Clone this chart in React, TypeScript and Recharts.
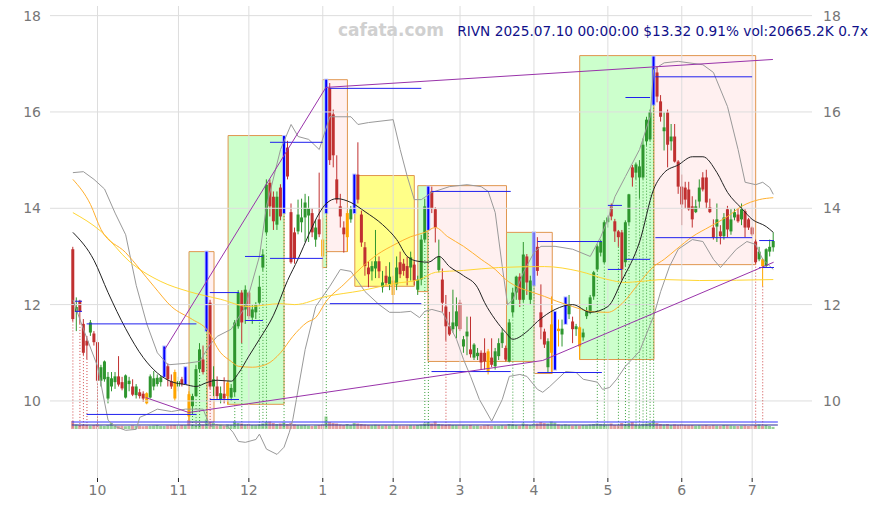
import React from "react";
import {
  ComposedChart,
  Bar,
  Line,
  XAxis,
  YAxis,
  ReferenceArea,
  ReferenceLine,
} from "recharts";

type Candle = [number, number, number, number]; // open, high, low, close

// daily candles, Sep 20 2024 .. Jul 10 2025
const sep: Candle[] = [
  [13.15, 13.2, 11.65, 11.7], [11.85, 12.15, 11.45, 11.95], [12.08, 12.1, 11.6, 11.85],
  [11.6, 11.7, 10.95, 11.0], [11.25, 11.35, 10.87, 11.15], [11.42, 11.68, 11.35, 11.63],
  [11.4, 11.45, 11.15, 11.22],
];
const oct: Candle[] = [
  [11.22, 11.27, 10.36, 10.42], [10.42, 10.75, 10.3, 10.7], [10.45, 10.84, 10.4, 10.82],
  [10.05, 10.6, 9.95, 10.5], [10.3, 10.6, 10.2, 10.47], [10.39, 10.6, 10.25, 10.51],
  [10.51, 10.93, 10.3, 10.34], [10.39, 10.5, 10.22, 10.26], [10.07, 10.55, 10.05, 10.53],
  [10.35, 10.5, 10.2, 10.42], [10.3, 10.45, 10.1, 10.13], [10.12, 10.35, 10.05, 10.3],
  [10.18, 10.25, 10.05, 10.1], [10.15, 10.2, 9.98, 10.05], [10.16, 10.18, 9.93, 9.95],
  [10.07, 10.55, 10.05, 10.51], [10.3, 10.62, 10.22, 10.47], [10.35, 10.55, 10.3, 10.48],
  [10.39, 10.52, 10.3, 10.49], [10.51, 11.13, 10.5, 10.93], [10.72, 10.78, 10.3, 10.45],
  [10.41, 10.55, 10.25, 10.3], [10.6, 10.65, 10.0, 10.05],
];
const nov: Candle[] = [
  [10.3, 10.5, 10.2, 10.41], [10.45, 10.5, 10.3, 10.35], [10.39, 10.7, 10.35, 10.66],
  [10.14, 10.2, 9.6, 9.68], [9.89, 10.15, 9.75, 10.1], [10.1, 10.75, 10.1, 10.66],
  [10.66, 11.2, 10.6, 11.07], [10.86, 11.15, 10.55, 10.6], [11.5, 13.1, 11.45, 12.05],
  [12.04, 12.1, 10.25, 10.3], [10.3, 10.72, 10.1, 10.45], [10.3, 10.51, 10.03, 10.1],
  [10.03, 10.3, 9.95, 10.16], [10.15, 10.49, 9.95, 10.05], [10.1, 10.41, 9.92, 10.38],
  [10.07, 10.35, 10.0, 10.27], [10.18, 11.68, 10.1, 11.63], [11.55, 12.3, 11.5, 12.25],
  [12.25, 12.3, 11.2, 11.63], [11.9, 12.4, 11.6, 12.31],
];
const dec: Candle[] = [
  [12.25, 12.27, 11.7, 11.76], [11.73, 12.0, 11.6, 11.9], [11.84, 12.05, 11.7, 12.0],
  [12.04, 12.6, 12.0, 12.37], [12.77, 13.15, 12.7, 13.04], [13.5, 14.6, 13.45, 14.49],
  [14.53, 14.6, 13.83, 14.04], [14.24, 14.35, 13.55, 13.73], [13.66, 14.35, 13.55, 14.24],
  [14.43, 14.5, 13.75, 13.83], [13.92, 15.5, 13.9, 15.3], [15.26, 15.4, 14.6, 14.66],
  [13.92, 14.1, 12.85, 12.88], [13.5, 13.6, 12.85, 12.95], [13.52, 14.18, 13.46, 13.87],
  [13.71, 14.2, 13.5, 13.81], [13.81, 14.3, 13.3, 14.12], [13.85, 14.25, 13.3, 14.0],
  [13.9, 14.0, 13.4, 13.5], [13.35, 13.75, 13.2, 13.6], [13.77, 14.74, 13.4, 13.46],
];
const jan: Candle[] = [
  [13.35, 13.8, 12.75, 13.0], [13.95, 16.67, 13.9, 16.5], [16.5, 16.6, 14.9, 15.0],
  [15.95, 16.05, 14.85, 15.1], [14.6, 15.1, 14.1, 14.18], [14.04, 14.3, 13.6, 13.83],
  [13.6, 13.73, 13.08, 13.46], [13.4, 13.95, 13.1, 13.9], [13.77, 14.05, 13.7, 13.98],
  [13.94, 14.7, 13.9, 14.66], [14.7, 15.37, 14.1, 14.18], [13.87, 13.95, 13.2, 13.29],
  [13.19, 13.3, 12.6, 12.8], [12.77, 12.9, 12.36, 12.63], [12.69, 12.9, 12.5, 12.8],
  [12.75, 13.55, 12.55, 12.9], [12.9, 13.0, 12.55, 12.69], [12.36, 12.7, 12.25, 12.46],
  [12.6, 12.8, 12.4, 12.45], [12.42, 12.88, 12.3, 12.58],
];
const feb: Candle[] = [
  [12.5, 12.6, 12.0, 12.2], [12.42, 13.0, 12.3, 12.77], [12.88, 13.1, 12.55, 12.63],
  [12.85, 12.95, 12.6, 12.7], [12.8, 13.0, 12.4, 12.55], [12.77, 13.1, 12.5, 12.98],
  [12.83, 12.9, 12.4, 12.5], [12.31, 12.6, 12.2, 12.52], [12.52, 13.45, 12.4, 13.35],
  [13.35, 14.2, 13.3, 14.04], [13.6, 14.45, 13.55, 14.4], [14.35, 14.45, 13.9, 14.0],
  [13.98, 14.02, 13.29, 13.6], [12.72, 13.35, 12.67, 13.0], [12.52, 12.75, 11.85, 12.04],
  [11.96, 12.2, 11.25, 11.55], [11.55, 11.85, 11.35, 11.38], [11.49, 12.31, 11.42, 11.63],
  [11.55, 12.15, 11.3, 11.86],
];
const mar: Candle[] = [
  [12.04, 12.1, 11.45, 11.49], [11.13, 11.35, 11.0, 11.28], [11.34, 11.75, 10.95, 11.44],
  [11.07, 11.75, 10.9, 10.97], [10.9, 11.2, 10.85, 11.17], [10.93, 11.1, 10.85, 11.0],
  [11.0, 11.05, 10.65, 10.8], [11.0, 11.3, 10.65, 10.82], [11.03, 11.08, 10.55, 10.6],
  [10.9, 11.3, 10.7, 10.75], [10.72, 11.1, 10.65, 11.03], [10.93, 11.3, 10.85, 11.2],
  [11.2, 11.5, 11.1, 11.42], [11.1, 11.15, 10.82, 10.86], [10.82, 11.7, 10.8, 11.63],
  [11.84, 12.35, 11.75, 12.25], [12.25, 12.6, 12.1, 12.58], [12.58, 12.65, 11.95, 12.1],
  [12.1, 13.3, 12.05, 13.04], [13.0, 13.05, 12.2, 12.46], [12.1, 12.6, 12.0, 12.5],
];
const apr: Candle[] = [
  [12.42, 13.5, 12.4, 13.45], [13.2, 13.4, 12.6, 12.7], [11.84, 12.42, 11.28, 11.53],
  [11.44, 11.5, 11.1, 11.17], [10.7, 11.3, 10.6, 11.24], [11.0, 12.17, 10.57, 11.59],
  [10.7, 11.85, 10.65, 11.8], [11.5, 11.69, 11.13, 11.45], [11.38, 11.69, 11.13, 11.5],
  [11.69, 12.15, 11.6, 12.15], [11.8, 12.2, 11.7, 12.0], [11.65, 11.75, 11.2, 11.49],
  [11.49, 11.6, 11.35, 11.55], [11.53, 11.55, 10.86, 11.13], [11.32, 11.5, 11.25, 11.42],
  [11.76, 11.95, 11.7, 11.86], [11.84, 12.2, 11.8, 12.15], [12.17, 12.7, 12.1, 12.67],
  [12.73, 13.25, 12.7, 13.21], [13.08, 13.35, 13.0, 13.31], [12.88, 13.75, 12.85, 13.71],
];
const may: Candle[] = [
  [13.71, 13.85, 13.6, 13.81], [14.04, 14.1, 13.75, 13.83], [13.73, 13.78, 13.3, 13.52],
  [13.52, 13.55, 13.2, 13.4], [13.5, 13.55, 12.5, 12.73], [12.88, 13.75, 12.8, 13.71],
  [13.71, 14.3, 13.65, 14.29], [14.85, 14.9, 14.45, 14.64], [14.74, 14.95, 14.6, 14.91],
  [14.64, 15.0, 14.2, 14.87], [14.64, 15.45, 14.6, 15.32], [15.39, 15.9, 15.3, 15.84],
  [15.43, 16.05, 15.4, 16.0], [16.2, 17.15, 16.15, 16.7], [16.82, 16.95, 16.2, 16.32],
  [16.22, 16.35, 15.8, 15.9], [15.6, 15.99, 15.2, 15.68], [15.99, 16.05, 14.85, 15.32],
  [15.39, 15.75, 15.2, 15.49], [15.49, 15.75, 14.95, 14.97], [14.97, 15.0, 14.3, 14.45],
];
const jun: Candle[] = [
  [14.45, 14.7, 13.65, 14.08], [14.43, 14.55, 14.0, 14.18], [14.39, 14.55, 13.95, 13.98],
  [14.04, 14.25, 13.6, 13.77], [13.92, 14.18, 13.9, 14.04], [14.14, 14.6, 14.0, 14.43],
  [14.64, 14.75, 14.35, 14.39], [14.64, 14.8, 14.0, 14.12], [14.02, 14.2, 13.9, 13.92],
  [13.6, 13.77, 13.35, 13.4], [13.62, 14.1, 13.3, 13.77], [13.52, 13.65, 13.25, 13.42],
  [13.42, 13.9, 13.35, 13.81], [13.98, 14.05, 13.4, 13.56], [13.52, 13.98, 13.45, 13.77],
  [13.81, 14.0, 13.75, 13.92], [13.87, 14.0, 13.7, 13.73], [13.77, 14.1, 13.65, 13.98],
  [13.94, 13.98, 13.4, 13.6], [13.77, 13.8, 13.55, 13.6],
];
const jul: Candle[] = [
  [13.6, 13.62, 13.43, 13.46], [13.31, 13.35, 12.85, 12.88], [12.94, 13.2, 12.9, 13.1],
  [12.94, 12.97, 12.38, 12.8], [12.8, 13.17, 12.78, 13.15], [13.1, 13.35, 13.0, 13.2],
  [13.19, 13.5, 13.1, 13.32],
];

// volume in millions
const volSep = [80, 45, 40, 42, 38, 35, 40];
const volOct = [45, 35, 30, 38, 60, 35, 30, 32, 28, 30, 35, 30, 32, 28, 30, 33, 35, 40, 32, 30, 35, 38, 40];
const volNov = [35, 40, 38, 90, 45, 40, 50, 45, 95, 70, 60, 50, 45, 40, 45, 42, 75, 60, 55, 45];
const volDec = [50, 40, 38, 45, 55, 70, 75, 60, 50, 55, 65, 50, 60, 45, 40, 38, 40, 35, 30, 35, 40];
const volJan = [45, 125, 70, 60, 55, 45, 40, 50, 40, 60, 55, 50, 45, 40, 38, 42, 40, 35, 38, 35];
const volFeb = [40, 38, 35, 33, 35, 38, 35, 40, 45, 55, 70, 55, 75, 50, 45, 40, 45, 40, 38];
const volMar = [40, 38, 35, 40, 33, 35, 30, 35, 40, 32, 35, 33, 38, 35, 50, 45, 40, 35, 55, 45, 40];
const volApr = [50, 55, 70, 60, 55, 75, 65, 45, 40, 45, 40, 35, 38, 35, 40, 38, 45, 50, 55, 50, 48];
const volMay = [45, 55, 40, 38, 60, 50, 55, 70, 45, 40, 50, 55, 60, 85, 60, 50, 45, 50, 40, 45, 40];
const volJun = [45, 40, 38, 40, 35, 38, 35, 40, 33, 38, 35, 33, 40, 38, 35, 32, 30, 33, 35, 30];
const volJul = [35, 38, 45, 33, 40, 30, 21];
const volLevels = [70, 40];

const candles = [...sep, ...oct, ...nov, ...dec, ...jan, ...feb, ...mar, ...apr, ...may, ...jun, ...jul];
const volumes = [...volSep, ...volOct, ...volNov, ...volDec, ...volJan, ...volFeb, ...volMar, ...volApr, ...volMay, ...volJun, ...volJul];

// swing highs (blue) and swing lows (orange)
const blueIdx = [26, 32, 38, 60, 72, 80, 101, 131, 137, 140, 165];
const orangeIdx = [21, 29, 33, 44, 71, 78, 91, 118, 136, 138, 144, 196];

const monthTicks = [7, 30, 50, 71, 91, 110, 131, 152, 173, 193];
const monthLabels = ["10", "11", "12", "1", "2", "3", "4", "5", "6", "7"];
const priceTicks = [10, 12, 14, 16, 18];

// indicator lines, [day index, value]
const midLine = [
  [0, 13.5], [6, 12.92], [10, 12.25], [15, 11.5], [20, 10.9], [24, 10.58], [28, 10.4], [32, 10.34],
  [35, 10.3], [38, 10.38], [41, 10.43], [45, 10.41], [47, 10.57], [50, 10.93], [53, 11.28], [57, 11.78],
  [61, 12.5], [64, 12.95], [67, 13.45], [70, 13.9], [72, 14.1], [75, 14.2], [79, 14.12], [83, 13.93],
  [88, 13.66], [92, 13.35], [95, 13.0], [98, 12.9], [101, 12.88], [104, 13.0], [107, 12.79], [111, 12.6],
  [115, 12.35], [117, 12.04], [120, 11.69], [123, 11.42], [125, 11.28], [129, 11.44], [132, 11.65],
  [137, 11.9], [142, 12.0], [147, 11.84], [152, 11.96], [156, 12.5], [161, 13.3], [165, 14.39],
  [168, 14.74], [172, 14.9], [176, 15.07], [179, 15.07], [183, 14.74], [186, 14.33], [190, 14.0],
  [193, 13.77], [197, 13.62], [199, 13.5],
];
const upperBand = [
  [0, 14.74], [3, 14.76], [6, 14.6], [9, 14.4], [12, 13.9], [15, 13.45], [18, 12.4], [21, 11.6],
  [24, 11.0], [27, 10.75], [32, 10.78], [36, 10.82], [39, 11.17], [41, 11.34], [45, 11.49], [49, 11.96],
  [53, 13.0], [55, 14.04], [59, 15.22], [62, 15.74], [64, 15.49], [67, 15.43], [70, 15.22], [73, 15.9],
  [79, 15.9], [81, 15.74], [84, 15.78], [91, 15.84], [93, 15.22], [95, 14.66], [97, 14.18], [99, 14.18],
  [102, 14.33], [107, 14.45], [112, 14.49], [116, 14.45], [118, 14.35], [120, 13.91], [122, 12.79],
  [123.5, 12.0], [125, 12.1], [128, 12.67], [131, 13.08], [133, 13.21], [137, 13.21], [142, 13.15],
  [147, 13.0], [150, 13.41], [152, 13.77], [154, 14.24], [157, 14.66], [161, 15.22], [164, 15.9],
  [165, 16.88], [168, 17.02], [172, 17.05], [179, 16.98], [182, 16.82], [186, 16.11], [189, 15.22],
  [191, 14.54], [194, 14.49], [196, 14.54], [198, 14.43], [199, 14.29],
];
const lowerBand = [
  [0, 12.1], [3, 11.49], [7, 10.72], [10, 9.6], [12, 9.47], [15, 9.39], [18, 9.41], [19, 9.66],
  [21, 9.72], [24, 9.83], [28, 9.78], [32, 9.83], [37, 9.83], [39, 9.47], [42, 9.51], [44, 9.47],
  [45.5, 9.35], [47, 9.16], [49, 9.14], [52, 9.2], [53, 9.31], [55, 9.0], [58, 8.89], [60, 9.04],
  [61.5, 9.35], [62.5, 9.62], [63.5, 10.03], [66, 11.07], [69, 11.96], [73, 12.38], [76, 12.73],
  [79, 12.69], [83, 12.27], [87, 12.0], [90, 11.84], [93, 11.84], [96, 11.86], [98.5, 11.73],
  [100, 11.86], [102, 11.9], [105, 11.84], [106.5, 11.63], [109, 11.28], [111, 10.86], [113, 10.51],
  [115.5, 10.03], [119, 9.58], [122, 10.03], [124, 10.51], [127, 10.55], [129, 10.51], [132, 10.24],
  [133.5, 10.18], [135.5, 10.3], [140, 10.61], [143, 10.59], [145, 10.45], [149, 10.39], [150.5, 10.24],
  [152.5, 10.28], [154.5, 10.45], [157, 10.72], [161, 11.03], [165, 11.76], [167, 12.27], [169.5, 12.79],
  [172, 13.15], [176, 13.35], [179, 13.31], [182, 12.94], [184, 12.77], [186, 12.94], [188.5, 13.15],
  [191.5, 13.31], [194, 13.25], [196, 12.94], [199, 12.73],
];
const orangeLine = [
  [0, 14.6], [5, 14.08], [8, 13.56], [15, 13.08], [23, 12.38], [28, 11.96], [34, 11.69], [38, 11.49],
  [42, 11.0], [45, 10.82], [47, 10.72], [51, 10.7], [55, 10.76], [59, 11.0], [62.5, 11.34], [66.5, 11.63],
  [69, 11.73], [72, 12.07], [77, 12.42], [82, 12.77], [86.5, 13.04], [91.5, 13.25], [96, 13.41],
  [100, 13.5], [103, 13.6], [106.5, 13.41], [111, 13.21], [116, 12.94], [120, 12.73], [123, 12.52],
  [126, 12.38], [130, 12.27], [134, 12.17], [137.5, 12.07], [142, 11.96], [147, 11.86], [152, 11.84],
  [156, 12.02], [161, 12.46], [165, 12.79], [168, 12.94], [171.5, 13.15], [176, 13.41], [181, 13.62],
  [186, 13.83], [190, 14.04], [195, 14.18], [199, 14.22],
];
const yellowLine = [
  [0, 13.91], [8, 13.52], [16, 12.9], [25, 12.48], [33, 12.27], [42, 12.11], [50, 11.96], [59, 12.02],
  [63, 12.0], [72, 12.17], [82, 12.29], [91.5, 12.44], [98.5, 12.52], [103, 12.67], [111, 12.71],
  [121, 12.77], [134, 12.79], [144, 12.69], [152, 12.52], [157, 12.46], [161, 12.48], [168, 12.52],
  [178, 12.5], [199, 12.52],
];

// swing boxes: [from, to, low, high, kind]
const boxes: [number, number, number, number, string][] = [
  [33, 38.15, 9.56, 13.1, "up"],
  [38.15, 40.1, 9.56, 13.1, "down"],
  [44.1, 60, 9.93, 15.51, "up"],
  [70.9, 72.1, 12.77, 16.67, "up"],
  [72.1, 78, 13.1, 16.67, "down"],
  [80.1, 97, 12.38, 14.68, "flat"],
  [98, 100.9, 12.27, 14.47, "up"],
  [100.9, 123.2, 10.82, 14.47, "down"],
  [123.2, 131.05, 10.82, 13.5, "up"],
  [131.05, 136.2, 10.57, 13.5, "down"],
  [144, 165.1, 10.86, 17.17, "up"],
  [165.1, 194, 12.83, 17.17, "down"],
];

// blue levels: [from, to, price]
const blueLevels: [number, number, number][] = [
  [0.6, 2.6, 12.07], [0.6, 2.6, 11.86],
  [3.9, 35.1, 11.6], [3.9, 35.1, 9.72],
  [38.9, 47.2, 12.25], [38.9, 47.2, 10.03],
  [48.9, 54, 13.0], [48.9, 54, 11.67],
  [56, 71, 15.37], [56, 71, 12.96],
  [73, 99, 16.49], [73, 99, 12.02],
  [101.9, 124.4, 14.35], [101.9, 124.4, 10.61],
  [132, 150.3, 13.31], [132, 150.3, 10.59],
  [152, 156, 14.06], [152, 156, 12.73],
  [157, 164, 16.3], [157, 164, 12.94],
  [165.5, 193, 16.73], [165.5, 193, 13.39],
  [195, 199.2, 13.33], [195, 199.2, 12.77],
];

// purple trend lines: [x1, y1, x2, y2]
const trendLines: [number, number, number, number][] = [
  [26.1, 11.07, 71.9, 16.51],
  [71.9, 16.51, 198.9, 17.09],
  [20.7, 10.07, 32.9, 9.76],
  [32.9, 9.76, 133.5, 10.84],
  [133.5, 10.84, 199.1, 12.88],
];

const redMarks = [0, 2, 3, 4, 7, 39, 106, 194, 196];
const greenMarks = [34, 35, 36, 38, 46, 48, 53, 54, 55, 60, 72, 100, 101, 125, 128, 131, 149, 151, 155, 157, 158, 160, 161, 162, 163, 164, 165];
const markFloor = 9.45;

const data = candles.map((c, i) => ({
  i,
  o: c[0],
  h: c[1],
  l: c[2],
  c: c[3],
  vol: volumes[i],
  mark: blueIdx.includes(i) ? "blue" : orangeIdx.includes(i) ? "orange" : "",
}));

const toPts = (arr: number[][]) => arr.map(([i, v]) => ({ i, v }));

const boxFill: Record<string, string> = { up: "#ccffcc", down: "#fff0f0", flat: "#ffff88" };
const FONT = "DejaVu Sans";

function CandleShape(props: any) {
  const { x, y, width, height, payload } = props;
  if (!payload || x == null || y == null) return null;
  const { o, h, l, c, mark } = payload;
  const top = height >= 0 ? y : y + height;
  const span = Math.abs(height);
  const k = h > l ? span / (h - l) : 0;
  const py = (v: number) => top + (h - v) * k;
  const cx = x + width / 2;
  if (mark === "blue") {
    return (
      <g>
        <rect x={cx - 2} y={top - 1} width={4} height={span + 2} fill="#b8c0ff" />
        <rect x={cx - 1} y={top} width={2} height={span} fill="#0000ff" />
      </g>
    );
  }
  const color = mark === "orange" ? "#ffa500" : c >= o ? "#2e962e" : "#c03030";
  const bodyTop = py(Math.max(o, c));
  const bodyH = Math.max(1, Math.abs(py(o) - py(c)));
  return (
    <g>
      <line x1={cx} x2={cx} y1={top} y2={top + span} stroke={color} strokeWidth={1} />
      <rect x={cx - 1.5} y={bodyTop} width={3} height={bodyH} fill={color} />
    </g>
  );
}

function VolShape(props: any) {
  const { x, y, width, height, payload } = props;
  if (!payload || x == null) return null;
  const up = payload.c >= payload.o;
  return (
    <rect
      x={x + width / 2 - 1.5}
      y={height >= 0 ? y : y + height}
      width={3}
      height={Math.abs(height)}
      fill={up ? "#7cc47c" : "#dc8888"}
      fillOpacity={0.8}
    />
  );
}

const LeftTick = ({ y, payload }: any) => (
  <text x={41} y={y} dy={5} textAnchor="end" fill="#777" fontSize={14} fontFamily={FONT}>
    {payload.value}
  </text>
);
const RightTick = ({ y, payload }: any) => (
  <text x={823} y={y} dy={5} textAnchor="start" fill="#777" fontSize={14} fontFamily={FONT}>
    {payload.value}
  </text>
);

export default function App() {
  return (
    <div style={{ position: "absolute", left: 0, top: 0, width: 878, height: 511, background: "#fff" }}>
      <ComposedChart width={878} height={511} data={data} margin={{ top: 6, right: 0, bottom: 0, left: 0 }}>
        {priceTicks.map((t) => (
          <ReferenceLine key={"h" + t} xAxisId="x" yAxisId="p" segment={[{ x: -6.5, y: t }, { x: 210, y: t }]} stroke="#dddddd" />
        ))}
        {monthTicks.map((t) => (
          <ReferenceLine key={"m" + t} xAxisId="x" yAxisId="p" segment={[{ x: t, y: 8.4 }, { x: t, y: 18.2 }]} stroke="#dddddd" />
        ))}
        <XAxis
          xAxisId="x"
          dataKey="i"
          type="number"
          domain={[-6.5, 210]}
          allowDataOverflow
          ticks={monthTicks}
          tickFormatter={(v: number) => monthLabels[monthTicks.indexOf(v)] ?? ""}
          height={33}
          axisLine={false}
          tickSize={4}
          tickMargin={3}
          tickLine={{ stroke: "#222" }}
          tick={{ fill: "#777", fontSize: 14, fontFamily: FONT }}
        />
        <XAxis
          xAxisId="vx"
          dataKey="i"
          type="number"
          domain={[-6.5, 210]}
          allowDataOverflow
          hide
          height={0}
        />
        <YAxis
          yAxisId="p"
          domain={[8.4, 18.2]}
          allowDataOverflow
          ticks={priceTicks}
          width={50}
          axisLine={false}
          tickLine={false}
          tick={<LeftTick />}
        />
        <YAxis
          yAxisId="p2"
          orientation="right"
          domain={[8.4, 18.2]}
          allowDataOverflow
          ticks={priceTicks}
          width={66}
          axisLine={false}
          tickLine={false}
          tick={<RightTick />}
        />
        <YAxis yAxisId="vol" domain={[-490, 4230]} allowDataOverflow hide width={0} />

        {boxes.map(([x1, x2, y1, y2, kind], k) => (
          <ReferenceArea
            key={"b" + k}
            xAxisId="x"
            yAxisId="p"
            x1={x1}
            x2={x2}
            y1={y1}
            y2={y2}
            fill={boxFill[kind]}
            fillOpacity={1}
            stroke="#e0964f"
            strokeOpacity={1}
          />
        ))}

        {redMarks.map((i) => (
          <ReferenceLine
            key={"r" + i}
            xAxisId="x"
            yAxisId="p"
            segment={[{ x: i, y: candles[i][2] }, { x: i, y: markFloor }]}
            stroke="#d04848"
            strokeDasharray="1 2"
          />
        ))}
        {greenMarks.map((i) => (
          <ReferenceLine
            key={"g" + i}
            xAxisId="x"
            yAxisId="p"
            segment={[{ x: i, y: candles[i][2] }, { x: i, y: markFloor }]}
            stroke="#3aa03a"
            strokeDasharray="1 2"
          />
        ))}

        <Bar xAxisId="vx" yAxisId="vol" dataKey="vol" barSize={3} shape={<VolShape />} isAnimationActive={false} />
        {volLevels.map((v, k) => (
          <ReferenceLine
            key={"v" + k}
            xAxisId="x"
            yAxisId="vol"
            segment={[{ x: -0.3, y: v }, { x: 200.3, y: v }]}
            stroke={k === 0 ? "#3333ff" : "#2a2a99"}
          />
        ))}

        <Line xAxisId="x" yAxisId="p" data={toPts(upperBand)} dataKey="v" type="linear" stroke="#999" strokeWidth={1} dot={false} activeDot={false} isAnimationActive={false} />
        <Line xAxisId="x" yAxisId="p" data={toPts(lowerBand)} dataKey="v" type="linear" stroke="#999" strokeWidth={1} dot={false} activeDot={false} isAnimationActive={false} />
        <Line xAxisId="x" yAxisId="p" data={toPts(yellowLine)} dataKey="v" type="monotone" stroke="#ffd633" strokeWidth={1} dot={false} activeDot={false} isAnimationActive={false} />
        <Line xAxisId="x" yAxisId="p" data={toPts(orangeLine)} dataKey="v" type="monotone" stroke="#ffb030" strokeWidth={1} dot={false} activeDot={false} isAnimationActive={false} />
        <Line xAxisId="x" yAxisId="p" data={toPts(midLine)} dataKey="v" type="monotone" stroke="#222" strokeWidth={1} dot={false} activeDot={false} isAnimationActive={false} />

        <Bar
          xAxisId="x"
          yAxisId="p"
          dataKey={(d: any) => [d.l, d.h]}
          barSize={3}
          shape={<CandleShape />}
          isAnimationActive={false}
        />

        {blueLevels.map(([x1, x2, y], k) => (
          <ReferenceLine
            key={"l" + k}
            xAxisId="x"
            yAxisId="p"
            segment={[{ x: x1, y }, { x: x2, y }]}
            stroke="#2020ee"
          />
        ))}
        {trendLines.map(([x1, y1, x2, y2], k) => (
          <ReferenceLine
            key={"t" + k}
            xAxisId="x"
            yAxisId="p"
            segment={[{ x: x1, y: y1 }, { x: x2, y: y2 }]}
            stroke="#9933aa"
          />
        ))}
      </ComposedChart>
      <div
        style={{
          position: "absolute",
          left: 338,
          top: 20,
          fontFamily: FONT,
          fontWeight: "bold",
          fontSize: 17,
          color: "#d0d0d0",
        }}
      >
        cafata.com
      </div>
      <div
        style={{
          position: "absolute",
          right: 10,
          top: 23,
          fontFamily: FONT,
          fontSize: 13.7,
          color: "#10108a",
          whiteSpace: "nowrap",
        }}
      >
        RIVN 2025.07.10 00:00:00 $13.32 0.91% vol:20665.2K 0.7x
      </div>
    </div>
  );
}
